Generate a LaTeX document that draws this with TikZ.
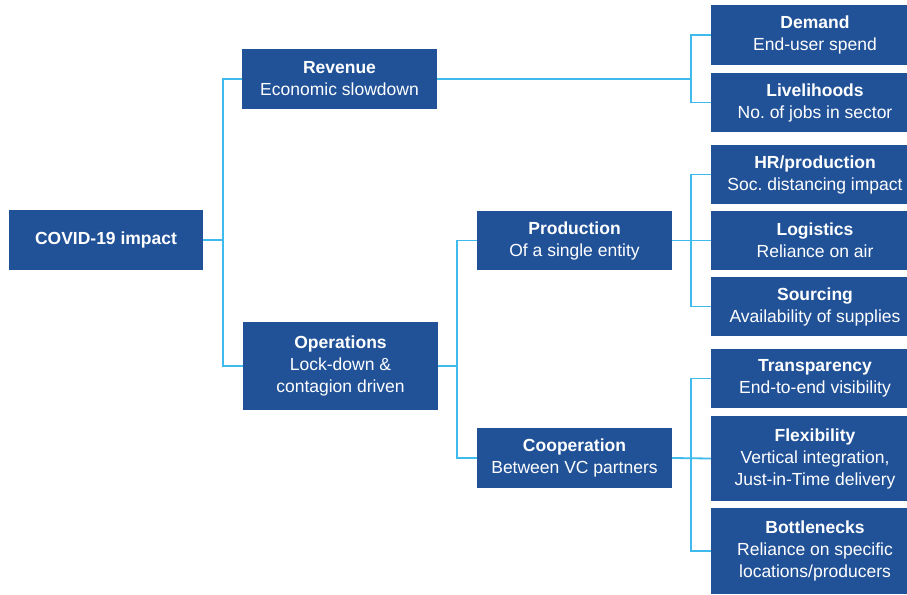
\documentclass[tikz,border=0pt]{standalone}
\usepackage{fontspec}
\setmainfont{Liberation Sans}
\frenchspacing
\definecolor{boxblue}{RGB}{33,82,152}
\definecolor{linkblue}{RGB}{62,186,236}
\begin{document}
\begin{tikzpicture}[x=1pt,y=-1pt,
  box/.style={fill=boxblue,text=white,inner sep=0pt,align=center,
    font=\fontsize{17.5}{22}\selectfont},
  conn/.style={draw=linkblue,line width=1.8pt}]
\useasboundingbox (0,0) rectangle (907,594);
\clip (0,0) rectangle (907,594);
\fill[white] (0,0) rectangle (907,594);
% level 0
\node[box,minimum width=194pt,minimum height=60pt] (covid) at (106,240) {\textbf{COVID-19 impact}};
% level 1
\node[box,minimum width=195pt,minimum height=60pt] (revenue) at (339.5,79) {\textbf{Revenue}\\Economic slowdown};
\node[box,minimum width=195pt,minimum height=88pt] (operations) at (340.5,366) {\textbf{Operations}\\Lock-down \&\\contagion driven};
% level 2
\node[box,minimum width=195pt,minimum height=59pt] (production) at (574.5,240.5) {\textbf{Production}\\Of a single entity};
\node[box,minimum width=195pt,minimum height=60pt] (cooperation) at (574.5,458) {\textbf{Cooperation}\\Between VC partners};
% level 3
\node[box,minimum width=208pt,minimum height=60pt] (demand) at (815,35) {\textbf{Demand}\\End-user spend};
\node[box,minimum width=208pt,minimum height=59pt] (livelihoods) at (815,102.5) {\textbf{Livelihoods}\\No. of jobs in sector};
\node[box,minimum width=208pt,minimum height=59pt] (hr) at (815,174.5) {\textbf{HR/production}\\Soc. distancing impact};
\node[box,minimum width=208pt,minimum height=59pt] (logistics) at (815,240.5) {\textbf{Logistics}\\Reliance on air};
\node[box,minimum width=208pt,minimum height=59pt] (sourcing) at (815,306.5) {\textbf{Sourcing}\\Availability of supplies};
\node[box,minimum width=208pt,minimum height=59pt] (transparency) at (815,378.5) {\textbf{Transparency}\\End-to-end visibility};
\node[box,minimum width=208pt,minimum height=85pt] (flexibility) at (815,458.5) {\textbf{Flexibility}\\Vertical integration,\\Just-in-Time delivery};
\node[box,minimum width=208pt,minimum height=86pt] (bottlenecks) at (815,551) {\textbf{Bottlenecks}\\Reliance on specific\\locations/producers};
% junctions
\coordinate (j0) at (223,240);
\coordinate (j1) at (457,366);
\coordinate (j2) at (691,79);
\coordinate (j3) at (691,240.5);
\coordinate (j4) at (691,458);
% connectors
\draw[conn] (covid.east) -- (j0);
\draw[conn] (j0) |- (revenue.west);
\draw[conn] (j0) |- (operations.west);
\draw[conn] (operations.east) -- (j1);
\draw[conn] (j1) |- (production.west);
\draw[conn] (j1) |- (cooperation.west);
\draw[conn] (revenue.east) -- (j2);
\draw[conn] (j2) |- (demand.west);
\draw[conn] (j2) |- (livelihoods.west);
\draw[conn] (production.east) -- (logistics.west);
\draw[conn] (j3) |- (hr.west);
\draw[conn] (j3) |- (sourcing.west);
\draw[conn] (cooperation.east) -- (flexibility.west);
\draw[conn] (j4) |- (transparency.west);
\draw[conn] (j4) |- (bottlenecks.west);
\end{tikzpicture}
\end{document}
